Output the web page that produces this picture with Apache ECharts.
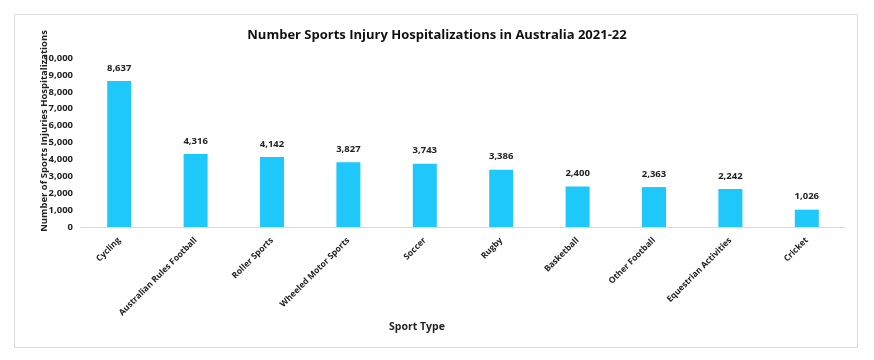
<!DOCTYPE html>
<html><head><meta charset="utf-8">
<script src="https://cdn.jsdelivr.net/npm/echarts@6/dist/echarts.min.js"></script>
<style>html,body{margin:0;padding:0;background:#fff}#c{width:874px;height:360px}</style>
</head><body><div id="c"></div>
<script>
const categories = ["Cycling","Australian Rules Football","Roller Sports","Wheeled Motor Sports","Soccer","Rugby","Basketball","Other Football","Equestrian Activities","Cricket"];
const values = [8637,4316,4142,3827,3743,3386,2400,2363,2242,1026];
const titleText = "Number Sports Injury Hospitalizations in Australia 2021-22";
const yName = "Number of Sports Injuries Hospitalizations";
const xName = "Sport Type";
const FONT = "'Open Sans', 'Noto Sans', sans-serif";
const chart = echarts.init(document.getElementById('c'));
chart.setOption({
  animation: false,
  backgroundColor: '#fff',
  graphic: [
    {type:'rect', shape:{x:14.5,y:14.5,width:843,height:333}, style:{fill:'none',stroke:'#d9d9d9',lineWidth:1}, z:-1},
    {type:'text', x:417, y:327, style:{text:xName, font:"bold 10.5px "+FONT, fill:'#222', textAlign:'center', textVerticalAlign:'middle'}},
    {type:'text', x:44, y:131, rotation:Math.PI/2, style:{text:yName, font:"bold 9.5px "+FONT, fill:'#222', textAlign:'center', textVerticalAlign:'middle'}}
  ],
  title: {text:titleText, left:'center', top:24, textStyle:{fontFamily:FONT,fontWeight:'bold',fontSize:13,color:'#111'}},
  grid: {left:81, right:29, top:58, bottom:133, containLabel:false},
  xAxis: {
    type:'category', data:categories,
    axisLine:{lineStyle:{color:'#d9d9d9'}}, axisTick:{show:false},
    axisLabel:{rotate:45, interval:0, fontFamily:FONT, fontWeight:'bold', fontSize:8.5, color:'#222', margin:12}
  },
  yAxis: {
    type:'value', min:0, max:10000, interval:1000,
    splitLine:{show:false}, axisLine:{show:false}, axisTick:{show:false},
    axisLabel:{fontFamily:FONT, fontWeight:'bold', fontSize:9.5, color:'#222', margin:8,
      formatter:v=>v.toLocaleString('en-US')}
  },
  series: [{
    type:'bar', data:values, barWidth:24,
    itemStyle:{color:'#1ec8fa'},
    label:{show:true, position:'top', distance:8, fontFamily:FONT, fontWeight:'bold', fontSize:9.5, color:'#222',
      formatter:p=>p.value.toLocaleString('en-US')}
  }]
});
</script></body></html>
